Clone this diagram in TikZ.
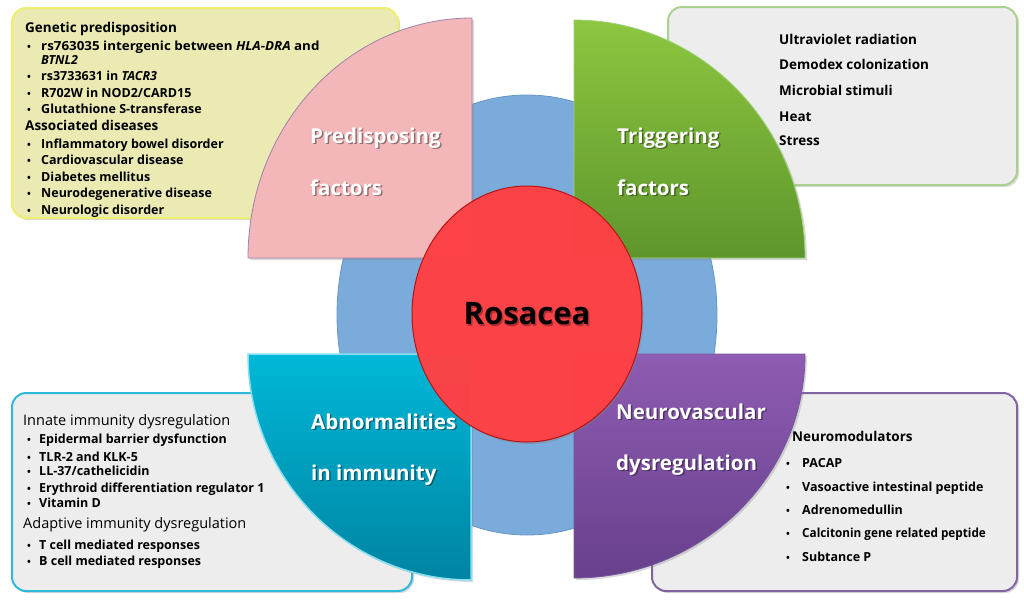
\documentclass[tikz,border=0pt]{standalone}
\usepackage{fontspec}
\setmainfont{Open Sans}
\usetikzlibrary{shadows}
\definecolor{ybox}{RGB}{234,234,178}
\definecolor{yborder}{RGB}{238,238,112}
\definecolor{gbox}{RGB}{237,237,237}
\definecolor{gborder}{RGB}{169,209,142}
\definecolor{cborder}{RGB}{45,185,215}
\definecolor{pborder}{RGB}{128,100,162}
\definecolor{blueE}{RGB}{122,171,218}
\definecolor{blueEb}{RGB}{100,150,200}
\definecolor{pinkQ}{RGB}{243,183,185}
\definecolor{pinkQb}{RGB}{160,130,170}
\definecolor{greenT}{RGB}{141,198,63}
\definecolor{greenB}{RGB}{94,150,45}
\definecolor{greenQb}{RGB}{160,210,120}
\definecolor{cyanT}{RGB}{0,184,216}
\definecolor{cyanB}{RGB}{0,132,162}
\definecolor{cyanQb}{RGB}{130,225,245}
\definecolor{purT}{RGB}{142,92,178}
\definecolor{purB}{RGB}{104,64,140}
\definecolor{purQb}{RGB}{120,85,160}
\definecolor{redC}{RGB}{255,64,68}
\definecolor{redCb}{RGB}{185,20,20}
\tikzset{
  infobox/.style={rounded corners=14pt, line width=2pt,
    drop shadow={opacity=0.3, shadow xshift=2pt, shadow yshift=-2pt}},
  quad/.style={line width=0.8pt,
    drop shadow={opacity=0.3, shadow xshift=2pt, shadow yshift=-2pt}},
  hd/.style={anchor=base west, inner sep=0pt, font=\bfseries\fontsize{13.5}{15}\selectfont},
  hdr/.style={anchor=base west, inner sep=0pt, font=\fontsize{14.5}{16}\selectfont},
  itm/.style={anchor=base west, inner sep=0pt, font=\bfseries\fontsize{12.5}{14}\selectfont},
  itmb/.style={anchor=base west, inner sep=0pt, font=\bfseries\fontsize{13.5}{15}\selectfont},
  bul/.style={anchor=base west, inner sep=0pt, font=\bfseries\fontsize{10}{12}\selectfont},
  qlab/.style={anchor=base west, inner sep=0pt, text=white, font=\bfseries\fontsize{20.5}{24}\selectfont},
  qsh/.style={anchor=base west, inner sep=0pt, text=black, opacity=0.4, font=\bfseries\fontsize{20.5}{24}\selectfont},
}
\begin{document}
\begin{tikzpicture}[x=1pt,y=-1pt]
\useasboundingbox (0,0) rectangle (1024,603);
% info boxes
\draw[infobox, fill=ybox, draw=yborder] (12,8) rectangle (398,218);
\draw[infobox, fill=gbox, draw=gborder] (668,7) rectangle (1017,185);
\draw[infobox, fill=gbox, draw=cborder] (12,393) rectangle (412,591);
\draw[infobox, fill=gbox, draw=pborder] (652,393) rectangle (1017,591);
% blue ellipse
\draw[fill=blueE, draw=blueEb, line width=0.8pt] (527,315) ellipse [x radius=190pt, y radius=220pt];
% quadrants
\draw[quad, fill=pinkQ, draw=pinkQb] (472,258) -- (248,258) arc[start angle=180, end angle=90, x radius=224pt, y radius=240pt] -- cycle;
\draw[quad, top color=greenT, bottom color=greenB, draw=greenQb] (574,258) -- (805,258) arc[start angle=0, end angle=90, x radius=231pt, y radius=238pt] -- cycle;
\draw[quad, top color=cyanT, bottom color=cyanB, draw=cyanQb, line width=1.5pt] (471,354) -- (248,354) arc[start angle=180, end angle=270, x radius=223pt, y radius=226pt] -- cycle;
\draw[quad, top color=purT, bottom color=purB, draw=purQb] (574,354) -- (805,354) arc[start angle=0, end angle=-90, x radius=231pt, y radius=224pt] -- cycle;
% red centre
\draw[fill=redC, fill opacity=0.97, draw=redCb, line width=1pt,
  drop shadow={opacity=0.35, shadow xshift=1.5pt, shadow yshift=-2pt}]
  (527,314) ellipse [x radius=115pt, y radius=128pt];
\node[anchor=center, inner sep=0pt, text=black, opacity=0.3, font=\bfseries\fontsize{31}{35}\selectfont] (rossh) at (528.5,315.5) {Rosacea};
\node[anchor=center, inner sep=0pt, font=\bfseries\fontsize{31}{35}\selectfont] (ros) at (527,314) {Rosacea};
% quadrant labels
\foreach \nm/\x/\y/\t in {qa/310/143/Predisposing, qb/310/195/factors, qc/617/143/Triggering, qd/617/195/factors,
  qe/311/429/Abnormalities, qf/311/480/in immunity, qg/616/419/Neurovascular, qh/616/470/dysregulation}{
  \node[qsh] (\nm s) at (\x+1.5,\y+1.5) {\t};
  \node[qlab] (\nm) at (\x,\y) {\t};
}
% top-left text
\node[hd] (g0) at (25,32) {Genetic predisposition};
\node[bul] (g1b) at (27,50) {•};
\node[itm] (g1) at (41,50) {\scalebox{1.07}[1]{rs763035 intergenic between \textit{HLA-DRA} and}};
\foreach \nm/\y/\t in {g3/80/{rs3733631 in \textit{TACR3}},
  g4/97/{R702W in NOD2/CARD15}, g5/113/{Glutathione S-transferase},
  a1/148/{Inflammatory bowel disorder}, a2/164/{Cardiovascular disease}, a3/181/{Diabetes mellitus},
  a4/197/{Neurodegenerative disease}, a5/214/{Neurologic disorder}}{
  \node[bul] (\nm b) at (27,\y) {•};
  \node[itm] (\nm) at (41,\y) {\t};
}
\node[itm] (g2) at (41,64) {\textit{BTNL2}};
\node[hd] (a0) at (25,130) {Associated diseases};
% top-right text
\foreach \nm/\y/\t in {t1/44/Ultraviolet radiation, t2/69/Demodex colonization, t3/95/Microbial stimuli, t4/121/Heat, t5/145/Stress}{
  \node[itmb] (\nm) at (779,\y) {\t};
}
% bottom-left text
\node[hdr] (i0) at (23,425) {Innate immunity dysregulation};
\foreach \nm/\y/\t in {i1/443/{Epidermal barrier dysfunction}, i2/461/{TLR-2 and KLK-5}, i3/475/{LL-37/cathelicidin},
  i4/492/{Erythroid differentiation regulator 1}, i5/507/{Vitamin D}, d1/549/{T cell mediated responses}, d2/565/{B cell mediated responses}}{
  \node[bul] (\nm b) at (27,\y) {•};
  \node[itm] (\nm) at (39,\y) {\t};
}
\node[hdr] (d0) at (23,528) {Adaptive immunity dysregulation};
% bottom-right text
\node[hd] (n0) at (792,441) {Neuromodulators};
\foreach \nm/\y/\t in {n1/467/{PACAP}, n2/491/{Vasoactive intestinal peptide}, n3/514/{Adrenomedullin},
  n5/561/{Subtance P}}{
  \node[bul] (\nm b) at (786,\y) {•};
  \node[itm] (\nm) at (802,\y) {\t};
}
\node[bul] (n4b) at (786,537) {•};
\node[itm] (n4) at (802,537) {\scalebox{0.94}[1]{Calcitonin gene related peptide}};
\end{tikzpicture}
\end{document}
